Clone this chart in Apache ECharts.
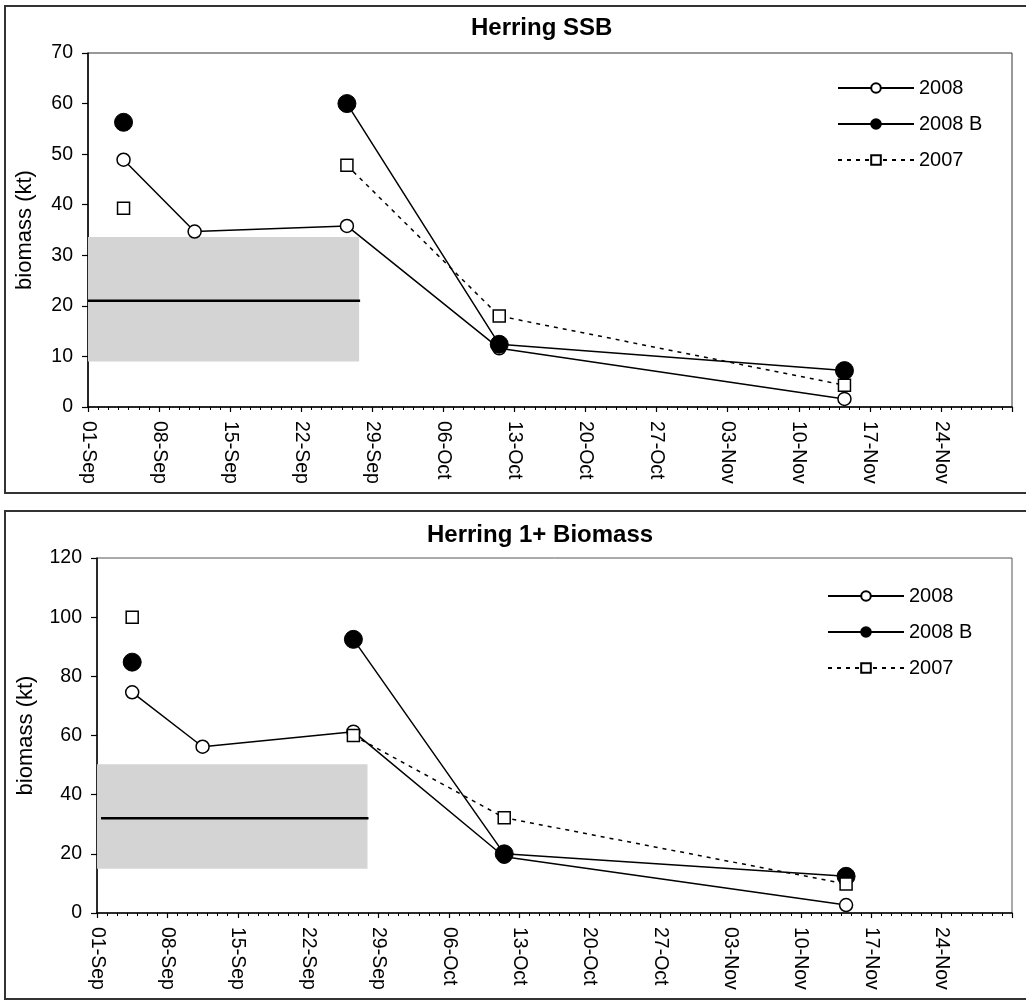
<!DOCTYPE html>
<html>
<head>
<meta charset="utf-8">
<title>Herring SSB / 1+ Biomass</title>
<script src="https://cdn.jsdelivr.net/npm/echarts@6/dist/echarts.min.js"></script>
<style>
html, body { margin: 0; padding: 0; background: #fff; }
#chart { width: 1026px; height: 1001px; }
</style>
</head>
<body>
<div id="chart"></div>
<script>
// survey dates, as days after 01-Sep
var surveyDays = [3.5, 10.5, 25.5, 40.5, 74.5];
var xTickLabels = ['01-Sep', '08-Sep', '15-Sep', '22-Sep', '29-Sep', '06-Oct', '13-Oct',
                   '20-Oct', '27-Oct', '03-Nov', '10-Nov', '17-Nov', '24-Nov'];
var seriesNames = ['2008', '2008 B', '2007'];

// Herring SSB (kt)
var ssb2008  = [48.9, 34.7, 35.8, 11.6, 1.6];
var ssb2008B = [56.3, null, 60.0, 12.4, 7.2];
var ssb2007  = [39.3, null, 47.8, 18.0, 4.3];
var ssbBand = [9, 33.6];      // grey range
var ssbMean = 21;             // black mean line
var ssbBandDays = [0, 26.7];
var ssbMeanDays = [0, 26.8];

// Herring 1+ biomass (kt)
var bio2008  = [74.6, 56.2, 61.3, 19.0, 2.7];
var bio2008B = [84.8, null, 92.5, 20.0, 12.4];
var bio2007  = [100.0, null, 60.0, 32.2, 9.8];
var bioBand = [15, 50.3];
var bioMean = 32;
var bioBandDays = [0, 26.9];
var bioMeanDays = [0.4, 27.0];

var FONT = '"Liberation Sans", Arial, sans-serif';

function pairs(vals) {
    return vals.map(function (v, i) {
        return [surveyDays[i], v === null ? '-' : v];
    });
}

function dataSeries(idx, vals, k) {
    var s = {
        name: seriesNames[k],
        type: 'line',
        xAxisIndex: idx,
        yAxisIndex: idx,
        data: pairs(vals),
        connectNulls: false,
        z: 3 + k,
        lineStyle: { color: '#000', width: 1.5 },
        itemStyle: { color: '#fff', borderColor: '#000', borderWidth: 1.5 }
    };
    if (k === 0) {
        s.symbol = 'circle'; s.symbolSize = 13;
    } else if (k === 1) {
        s.symbol = 'circle'; s.symbolSize = 18;
        s.itemStyle = { color: '#000', borderColor: '#000', borderWidth: 1 };
    } else {
        s.symbol = 'rect'; s.symbolSize = 12;
        s.lineStyle = { color: '#000', width: 1.5, type: [4, 5] };
    }
    return s;
}

function refSeries(idx, band, bandDays, mean, meanDays) {
    return {
        type: 'line',
        xAxisIndex: idx,
        yAxisIndex: idx,
        silent: true,
        symbol: 'none',
        z: 1,
        data: [[meanDays[0], mean], [meanDays[1], mean]],
        lineStyle: { color: '#000', width: 2.5 },
        markArea: {
            silent: true,
            itemStyle: { color: '#d4d4d4' },
            data: [[{ coord: [bandDays[0], band[0]] }, { coord: [bandDays[1], band[1]] }]]
        }
    };
}

function xAxisOpt(idx) {
    return {
        type: 'value', gridIndex: idx, min: 0, max: 91, interval: 7,
        axisLine: { lineStyle: { color: '#000', width: 1.5 } },
        axisTick: { length: 5, lineStyle: { color: '#000', width: 1.2 } },
        minorTick: { show: true, splitNumber: 7, length: 3, lineStyle: { color: '#000', width: 1 } },
        splitLine: { show: false },
        axisLabel: {
            rotate: -90, margin: 14, fontSize: 19.5, color: '#000', fontFamily: FONT,
            formatter: function (v) { return xTickLabels[Math.round(v / 7)] || ''; }
        }
    };
}

function yAxisOpt(idx, max, step, gap) {
    return {
        type: 'value', gridIndex: idx, min: 0, max: max, interval: step,
        name: 'biomass (kt)', nameLocation: 'middle', nameGap: gap,
        nameTextStyle: { fontSize: 22, color: '#000', fontFamily: FONT },
        axisLine: { show: true, lineStyle: { color: '#000', width: 1.5 } },
        axisTick: { show: true, length: 6, lineStyle: { color: '#000', width: 1.2 } },
        splitLine: { show: false },
        axisLabel: { margin: 15, fontSize: 19.5, color: '#000', fontFamily: FONT }
    };
}

var legendBase = {
    orient: 'vertical',
    data: seriesNames,
    itemWidth: 76,
    itemHeight: 12,
    itemGap: 16,
    selectedMode: false,
    textStyle: { fontSize: 20, color: '#000', fontFamily: FONT, lineHeight: 20 }
};

var option = {
    animation: false,
    backgroundColor: '#fff',
    title: [
        { text: 'Herring SSB', left: 466, top: 11,
          textStyle: { fontSize: 24, fontWeight: 'bold', color: '#000', fontFamily: FONT } },
        { text: 'Herring 1+ Biomass', left: 422, top: 518,
          textStyle: { fontSize: 24, fontWeight: 'bold', color: '#000', fontFamily: FONT } }
    ],
    legend: [
        Object.assign({}, legendBase, { left: 832, top: 73 }),
        Object.assign({}, legendBase, { left: 822, top: 581 })
    ],
    grid: [
        { left: 88, top: 53, right: 14, bottom: 594, show: true, borderColor: '#333', borderWidth: 1 },
        { left: 97, top: 558, right: 14, bottom: 88, show: true, borderColor: '#555', borderWidth: 1 }
    ],
    xAxis: [xAxisOpt(0), xAxisOpt(1)],
    yAxis: [yAxisOpt(0, 70, 10, 52), yAxisOpt(1, 120, 20, 60)],
    graphic: [
        { type: 'rect', shape: { x: 5, y: 6, width: 1030, height: 487 },
          style: { fill: 'none', stroke: '#333', lineWidth: 2 }, silent: true },
        { type: 'rect', shape: { x: 5, y: 511, width: 1030, height: 488 },
          style: { fill: 'none', stroke: '#333', lineWidth: 2 }, silent: true }
    ],
    series: [
        refSeries(0, ssbBand, ssbBandDays, ssbMean, ssbMeanDays),
        dataSeries(0, ssb2008, 0),
        dataSeries(0, ssb2008B, 1),
        dataSeries(0, ssb2007, 2),
        refSeries(1, bioBand, bioBandDays, bioMean, bioMeanDays),
        dataSeries(1, bio2008, 0),
        dataSeries(1, bio2008B, 1),
        dataSeries(1, bio2007, 2)
    ]
};

var myChart = echarts.init(document.getElementById('chart'));
myChart.setOption(option);
</script>
</body>
</html>
